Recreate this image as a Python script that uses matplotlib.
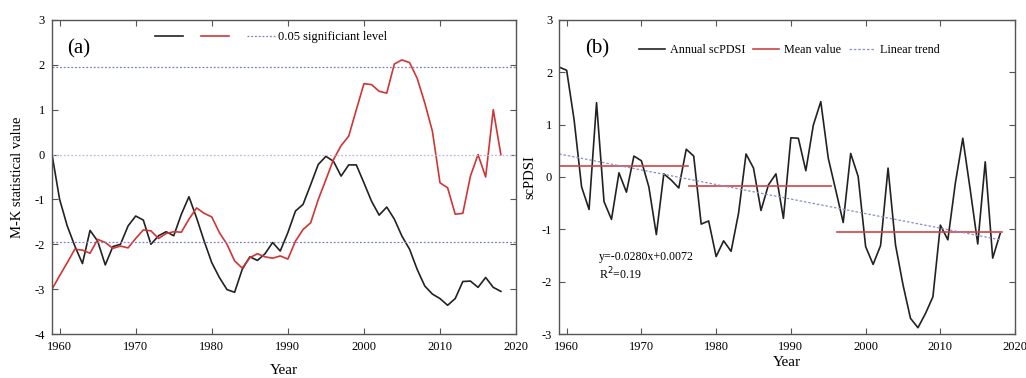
import matplotlib
matplotlib.use("Agg")
import matplotlib.pyplot as plt
from matplotlib.lines import Line2D

plt.rcParams['font.family'] = ['Liberation Serif', 'DejaVu Serif']
plt.rcParams['axes.unicode_minus'] = False

years = list(range(1959, 2019))

# M-K forward statistic (UF) and backward statistic (UB)
uf = [0.0, -1.0, -1.59, -2.04, -2.43, -1.69, -1.93, -2.46, -2.05, -2.0,
      -1.59, -1.37, -1.46, -2.0, -1.81, -1.72, -1.81, -1.33, -0.94, -1.41,
      -1.93, -2.41, -2.74, -3.01, -3.07, -2.56, -2.28, -2.36, -2.21, -1.96,
      -2.15, -1.74, -1.26, -1.11, -0.67, -0.22, -0.04, -0.15, -0.48, -0.23,
      -0.23, -0.63, -1.04, -1.35, -1.17, -1.44, -1.82, -2.11, -2.56, -2.93,
      -3.11, -3.21, -3.36, -3.21, -2.83, -2.82, -2.96, -2.74, -2.96, -3.05]
ub = [-3.0, -2.70, -2.41, -2.11, -2.13, -2.2, -1.89, -1.96, -2.09, -2.04,
      -2.08, -1.87, -1.68, -1.7, -1.87, -1.76, -1.72, -1.73, -1.44, -1.19,
      -1.31, -1.39, -1.74, -2.0, -2.37, -2.53, -2.30, -2.21, -2.28, -2.31,
      -2.26, -2.33, -1.93, -1.67, -1.52, -1.0, -0.56, -0.11, 0.2, 0.41,
      1.0, 1.58, 1.56, 1.41, 1.37, 2.02, 2.11, 2.05, 1.70, 1.15,
      0.52, -0.63, -0.74, -1.33, -1.31, -0.48, 0.0, -0.5, 1.0, 0.0]
sig_levels = [1.96, -1.96]

# annual scPDSI
scpdsi = [2.10, 2.04, 1.09, -0.19, -0.62, 1.42, -0.47, -0.81, 0.08, -0.29,
          0.40, 0.31, -0.19, -1.10, 0.06, -0.06, -0.21, 0.53, 0.40, -0.90,
          -0.84, -1.52, -1.22, -1.42, -0.69, 0.44, 0.17, -0.64, -0.15, 0.06,
          -0.79, 0.75, 0.74, 0.12, 0.99, 1.44, 0.36, -0.25, -0.87, 0.45,
          0.01, -1.33, -1.67, -1.31, 0.17, -1.30, -2.06, -2.70, -2.88, -2.61,
          -2.29, -0.92, -1.20, -0.12, 0.74, -0.25, -1.28, 0.29, -1.55, -1.08]
mean_start = [1959, 1976.4, 1996.2]
mean_end = [1976.2, 1995.4, 2018.3]
mean_vals = [0.21, -0.18, -1.05]
trend_years = [1959, 2018]
trend_vals = [0.44, -1.20]

fig = plt.figure(figsize=(10.26, 3.78), dpi=100)
ax1 = fig.add_axes([0.0507, 0.1164, 0.4523, 0.8307])
ax2 = fig.add_axes([0.545, 0.1164, 0.4444, 0.8307])

spine_col = '#555555'
for ax in (ax1, ax2):
    for s in ax.spines.values():
        s.set_color(spine_col)
        s.set_linewidth(1.0)
    ax.tick_params(direction='in', top=True, right=True, length=4,
                   color=spine_col, labelsize=9, pad=5)
    ax.set_xlim(1959, 2020)
    ax.set_xticks(range(1960, 2021, 10))

# (a) M-K test
ax1.plot(years, uf, color='#222222', lw=1.2)
ax1.plot(years, ub, color='#d03535', lw=1.2)
for lv in sig_levels:
    ax1.axhline(lv, color='#7a80c8', lw=0.9, ls=(0, (1.5, 1.5)))
ax1.axhline(0, color='#c2b6da', lw=0.9, ls=(0, (1.5, 1.5)))
ax1.set_ylim(-4, 3)
ax1.set_yticks(range(-4, 4))
ax1.set_ylabel('M-K statistical value', fontsize=10.5, labelpad=8)
ax1.set_xlabel('Year', fontsize=11)
ax1.xaxis.set_label_coords(0.5, -0.095)
ax1.text(0.032, 0.907, '(a)', transform=ax1.transAxes, fontsize=15,
         ha='left', va='center')
h1 = [Line2D([], [], color='#222222', lw=1.2),
      Line2D([], [], color='#d03535', lw=1.2),
      Line2D([], [], color='#7a80c8', lw=0.9, ls=(0, (1.5, 1.5)))]
ax1.legend(h1, ['', '', '0.05 significiant level'], loc='center',
           bbox_to_anchor=(0.472, 0.946), ncol=3, frameon=False,
           fontsize=9, handlelength=2.25, handletextpad=0.25,
           columnspacing=1.2)

# (b) scPDSI
ax2.plot(years, scpdsi, color='#222222', lw=1.2)
for x0, x1, m in zip(mean_start, mean_end, mean_vals):
    ax2.plot([x0, x1], [m, m], color='#d04545', lw=1.2)
ax2.plot(trend_years, trend_vals, color='#8890c8', lw=0.9, ls=(0, (2, 1.5)))
ax2.set_ylim(-3, 3)
ax2.set_yticks(range(-3, 4))
ax2.set_ylabel('scPDSI', fontsize=10.5, labelpad=4)
ax2.set_xlabel('Year', fontsize=11)
ax2.xaxis.set_label_coords(0.5, -0.07)
ax2.text(0.058, 0.907, '(b)', transform=ax2.transAxes, fontsize=15,
         ha='left', va='center')
ax2.text(0.088, 0.245, 'y=-0.0280x+0.0072', transform=ax2.transAxes,
         fontsize=8.6, ha='left', va='center')
ax2.text(0.088, 0.19, 'R$^2$=0.19', transform=ax2.transAxes,
         fontsize=8.6, ha='left', va='center')
h2 = [Line2D([], [], color='#222222', lw=1.2),
      Line2D([], [], color='#d04545', lw=1.2),
      Line2D([], [], color='#8890c8', lw=0.9, ls=(0, (2, 1.5)))]
ax2.legend(h2, ['Annual scPDSI', 'Mean value', 'Linear trend'], loc='center',
           bbox_to_anchor=(0.505, 0.904), ncol=3, frameon=False,
           fontsize=8.7, handlelength=2.15, handletextpad=0.4,
           columnspacing=0.65)

fig.savefig('out.png', dpi=100)
